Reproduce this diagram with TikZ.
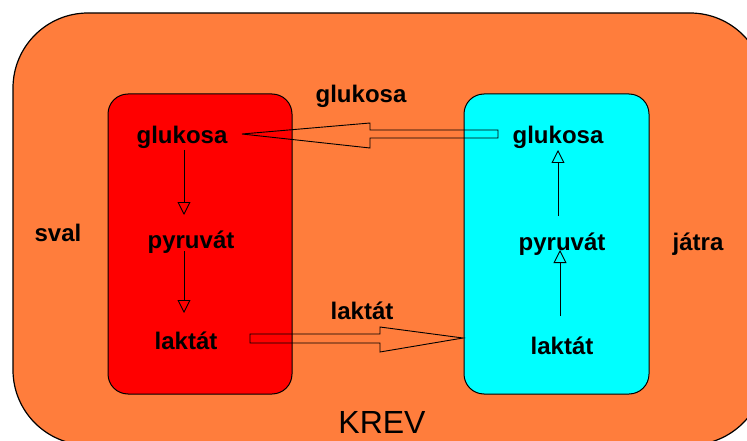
\documentclass[tikz,border=0pt]{standalone}
\usepackage{fontspec}
\setmainfont{Liberation Sans}
\usetikzlibrary{arrows.meta,calc}
\definecolor{blood}{RGB}{255,125,60}
\definecolor{muscle}{RGB}{255,0,0}
\definecolor{liver}{RGB}{0,255,255}
\tikzset{
 lbl/.style={font=\bfseries\fontsize{24}{28}\selectfont, inner sep=0pt, anchor=base},
 organ/.style={draw=black, line width=1pt, rounded corners=20pt},
 flow/.style={draw=black, line width=0.9pt, -{Triangle[open, length=13pt, width=13pt]}},
 hollow/.style={draw=black, line width=0.9pt, line join=miter},
}
\begin{document}
\begin{tikzpicture}[x=1pt,y=-1pt]
\useasboundingbox (0,0) rectangle (747,441);
\clip (0,0) rectangle (747,441);
\fill[white] (0,0) rectangle (747,441);
\draw[fill=blood, line width=1.2pt, rounded corners=75pt] (13,13) rectangle (765,445);
\draw[organ, fill=muscle] (108,94) rectangle (292,394);
\draw[organ, fill=liver] (464,94) rectangle (649,394);
% labels
\node[lbl] (rg) at (182,143) {glukosa};
\node[lbl] (rp) at (191,248) {pyruvát};
\node[lbl] (rl) at (186,349) {laktát};
\node[lbl] (cg) at (558,143) {glukosa};
\node[lbl] (cp) at (562,250) {pyruvát};
\node[lbl] (cl) at (562,354) {laktát};
\node[lbl] (tg) at (361,103) {glukosa};
\node[lbl] (tl) at (362,319) {laktát};
\node[lbl] (sval) at (58,241) {sval};
\node[lbl] (jatra) at (698,250) {játra};
\node[font=\fontsize{32}{38}\selectfont, inner sep=0pt, anchor=base] (krev) at (382,433) {KREV};
% hollow transport arrows
\draw[hollow] ($(rg.base)+(60,-9)$) coordinate (tipA) -- ++(128,-11) -- ++(0,7) -- ++(128,0) -- ++(0,8) -- ++(-128,0) -- ++(0,10) -- cycle;
\draw[hollow] ($(rl.base)+(64,-15)$) coordinate (tailB) -- ++(130,0) -- ++(0,-7) -- ++(83,11) -- ++(-83,14) -- ++(0,-9) -- ++(-130,0) -- cycle;
% metabolic arrows
\draw[flow] ($(rg.base)+(2,7)$) -- ($(rp.base)+(-7,-33)$);
\draw[flow] ($(rp.base)+(-7,3)$) -- ($(rl.base)+(-2,-36)$);
\draw[flow] ($(cp.base)+(-4,-34)$) -- ($(cg.base)+(0,7)$);
\draw[flow] ($(cl.base)+(-2,-38)$) -- ($(cp.base)+(-2,0)$);
\end{tikzpicture}
\end{document}
